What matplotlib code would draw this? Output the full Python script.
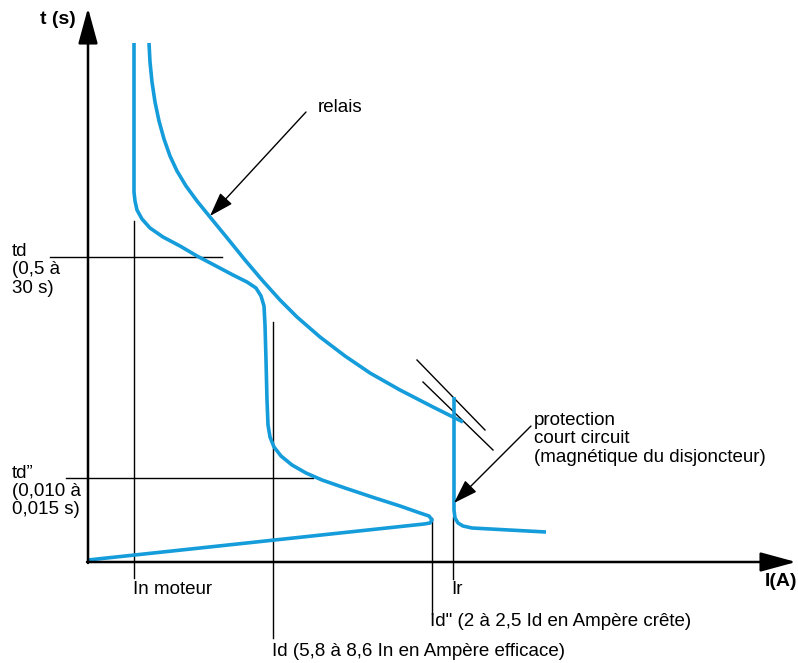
import matplotlib.pyplot as plt

# schematic drawn in picture units (x to the right, y downwards)
motor_x = [134, 134, 135, 137, 142, 150, 163, 180, 197, 216, 233, 247, 256, 261, 264,
           265, 266, 267, 268, 270, 274, 281, 292, 306, 322, 345, 375, 400, 420, 429,
           432, 430, 424, 88]
motor_y = [43, 192, 201, 210, 219, 228, 237, 246, 256, 266, 275, 282, 288, 296, 306,
           325, 360, 400, 425, 437, 447, 456, 465, 473, 480, 488, 498, 506, 513, 516,
           520, 523, 524, 560]

relais_x = [149, 150, 152, 155, 159, 164, 170, 177, 186, 197, 210, 228, 245, 262, 280,
            297, 320, 345, 370, 400, 433, 463]
relais_y = [43, 62, 82, 102, 121, 139, 156, 171, 186, 201, 217, 239, 260, 280, 300,
            317, 337, 356, 373, 390, 407, 422]

breaker_x = [454, 454, 455, 458, 463, 472, 546]
breaker_y = [397, 510, 518, 523, 526, 528, 532]

# thin reference lines: (x0, y0, x1, y1)
guides = [(134, 221, 134, 578), (50, 257, 222, 257), (273, 322, 273, 638),
          (66, 478, 313, 478), (432, 518, 432, 614), (453, 517, 453, 579),
          (417, 360, 485, 430), (423, 382, 493, 450)]

blue = '#149cdb'
font = 'Liberation Sans'
fs = 13.5

fig = plt.figure(figsize=(7.98, 6.63), dpi=100)
ax = fig.add_axes([0, 0, 1, 1])
ax.set_xlim(0, 798)
ax.set_ylim(663, 0)
ax.axis('off')

for x0, y0, x1, y1 in guides:
    ax.plot([x0, x1], [y0, y1], color='black', lw=1.0, zorder=1)

ax.plot(motor_x, motor_y, color=blue, lw=2.6, solid_capstyle='butt', zorder=2)
ax.plot(relais_x, relais_y, color=blue, lw=2.6, solid_capstyle='butt', zorder=2)
ax.plot(breaker_x, breaker_y, color=blue, lw=2.6, solid_capstyle='butt', zorder=2)

# axes with arrows
axis_arrow = dict(arrowstyle='-|>,head_length=2.2,head_width=0.6', mutation_scale=10,
                  lw=1.8, color='black', shrinkA=0, shrinkB=0)
ax.annotate('', xy=(88, 8), xytext=(88, 563), arrowprops=axis_arrow, zorder=3)
ax.annotate('', xy=(796, 562), xytext=(87, 562), arrowprops=axis_arrow, zorder=3)

# pointer arrows
pointer = dict(arrowstyle='-|>,head_length=1.5,head_width=0.5', mutation_scale=10,
               lw=1.0, color='black', shrinkA=0, shrinkB=0)
ax.annotate('', xy=(210, 216), xytext=(306, 112), arrowprops=pointer, zorder=3)
ax.annotate('', xy=(454, 503), xytext=(531, 426), arrowprops=pointer, zorder=3)

ax.text(76, 20, 't (s)', ha='right', va='center', fontsize=14, fontweight='bold', family=font)
ax.text(797, 582, 'I(A)', ha='right', va='center', fontsize=14, fontweight='bold', family=font)

ax.text(318, 107, 'relais', ha='left', va='center', fontsize=fs, family=font)
ax.text(12, 243, 'td\n(0,5 à\n30 s)', ha='left', va='top', fontsize=fs, family=font,
        linespacing=1.1)
ax.text(12, 465, 'td\u201d\n(0,010 à\n0,015 s)', ha='left', va='top', fontsize=fs,
        family=font, linespacing=1.08)
ax.text(133, 590, 'In moteur', ha='left', va='center', fontsize=fs, family=font)
ax.text(451, 590, 'Ir', ha='left', va='center', fontsize=fs, family=font)
ax.text(430, 622, 'Id" (2 à 2,5 Id en Ampère crête)', ha='left', va='center',
        fontsize=fs, family=font)
ax.text(272, 652, 'Id (5,8 à 8,6 In en Ampère efficace)', ha='left', va='center',
        fontsize=fs, family=font)
ax.text(534, 412, 'protection\ncourt circuit\n(magnétique du disjoncteur)', ha='left',
        va='top', fontsize=fs, family=font, linespacing=1.1)

fig.savefig('out.png', dpi=100)
